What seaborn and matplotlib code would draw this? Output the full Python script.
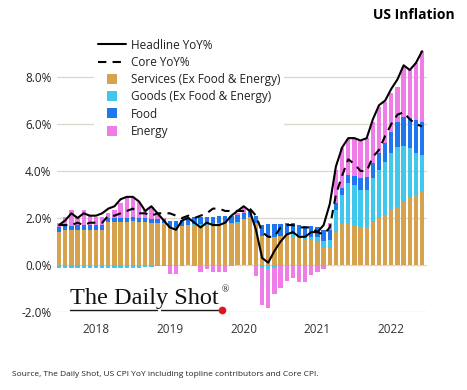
import numpy as np
import pandas as pd
import matplotlib
matplotlib.use("Agg")
import matplotlib.pyplot as plt
from matplotlib.lines import Line2D
import seaborn as sns

# ---------------- data (Jul 2017 .. Jun 2022, monthly) ----------------
months = pd.date_range("2017-07-01", "2022-06-01", freq="MS").strftime("%Y-%m").tolist()

headline = [1.7, 1.9, 2.2, 2.0, 2.2, 2.1,
            2.1, 2.2, 2.4, 2.5, 2.8, 2.9, 2.9, 2.7, 2.3, 2.5, 2.2, 1.9,
            1.6, 1.5, 1.9, 2.0, 1.8, 1.6, 1.8, 1.7, 1.7, 1.8, 2.1, 2.3,
            2.5, 2.3, 1.5, 0.3, 0.1, 0.6, 1.0, 1.3, 1.4, 1.2, 1.2, 1.4,
            1.4, 1.7, 2.6, 4.2, 5.0, 5.4, 5.4, 5.3, 5.4, 6.2, 6.8, 7.0,
            7.5, 7.9, 8.5, 8.3, 8.6, 9.1]

core = [1.7, 1.7, 1.7, 1.8, 1.7, 1.8,
        1.8, 1.8, 2.1, 2.1, 2.2, 2.3, 2.4, 2.2, 2.2, 2.1, 2.2, 2.2,
        2.2, 2.1, 2.0, 2.1, 2.0, 2.1, 2.2, 2.4, 2.4, 2.3, 2.3, 2.3,
        2.3, 2.4, 2.1, 1.4, 1.2, 1.2, 1.6, 1.7, 1.7, 1.6, 1.6, 1.6,
        1.4, 1.3, 1.6, 3.0, 3.8, 4.5, 4.3, 4.0, 4.0, 4.6, 4.9, 5.5,
        6.0, 6.4, 6.5, 6.2, 6.0, 5.9]

services = [1.40, 1.48, 1.48, 1.49, 1.49, 1.50,
            1.50, 1.50, 1.82, 1.84, 1.84, 1.84, 1.86, 1.84, 1.84, 1.80, 1.78, 1.77,
            1.58, 1.58, 1.64, 1.70, 1.72, 1.72, 1.72, 1.72, 1.74, 1.74, 1.74, 1.76,
            1.92, 1.98, 1.80, 1.22, 1.18, 1.20, 1.25, 1.25, 1.20, 1.15, 1.08, 1.05,
            0.98, 0.72, 0.72, 1.42, 1.73, 1.77, 1.70, 1.63, 1.63, 1.84, 1.98, 2.13,
            2.34, 2.48, 2.70, 2.84, 2.98, 3.15]

goods = [-0.13, -0.13, -0.13, -0.13, -0.13, -0.13,
         -0.13, -0.13, -0.12, -0.12, -0.12, -0.12, -0.11, -0.11, -0.10, -0.08, -0.06, -0.05,
         -0.04, -0.03, 0.00, 0.02, 0.03, 0.03, 0.04, 0.04, 0.05, 0.05, 0.05, 0.05,
         0.05, 0.05, 0.00, -0.13, -0.15, -0.12, -0.05, 0.05, 0.10, 0.12, 0.12, 0.15,
         0.20, 0.30, 0.35, 0.92, 1.25, 1.70, 1.70, 1.56, 1.56, 1.85, 2.06, 2.27,
         2.41, 2.56, 2.36, 2.12, 1.77, 1.53]

food = [0.20, 0.20, 0.20, 0.20, 0.20, 0.20,
        0.20, 0.20, 0.17, 0.17, 0.17, 0.17, 0.17, 0.17, 0.17, 0.17, 0.17, 0.17,
        0.28, 0.28, 0.28, 0.28, 0.28, 0.28, 0.30, 0.30, 0.30, 0.30, 0.30, 0.30,
        0.25, 0.25, 0.30, 0.50, 0.55, 0.55, 0.50, 0.50, 0.48, 0.45, 0.45, 0.45,
        0.45, 0.45, 0.40, 0.28, 0.28, 0.35, 0.40, 0.50, 0.57, 0.64, 0.71, 0.78,
        0.92, 1.06, 1.25, 1.28, 1.42, 1.42]

energy = [0.17, 0.38, 0.66, 0.37, 0.65, 0.43,
          0.36, 0.36, 0.21, 0.33, 0.61, 0.83, 0.81, 0.69, 0.33, 0.51, 0.25, 0.06,
          -0.35, -0.35, -0.05, 0.05, -0.05, -0.30, -0.15, -0.30, -0.30, -0.30, -0.05, 0.10,
          0.19, 0.08, -0.47, -1.56, -1.70, -1.13, -0.92, -0.67, -0.57, -0.71, -0.71, -0.43,
          -0.28, -0.15, 0.30, 1.42, 1.70, 1.54, 1.56, 1.61, 1.64, 1.77, 1.99, 1.77,
          1.63, 1.49, 2.13, 2.06, 2.41, 3.00]

year_labels = ["2018", "2019", "2020", "2021", "2022"]
ytick_vals = [-2, 0, 2, 4, 6, 8]

series_names = ["Services (Ex Food & Energy)", "Goods (Ex Food & Energy)", "Food", "Energy"]
colors = {"Services (Ex Food & Energy)": "#D6A24E",
          "Goods (Ex Food & Energy)": "#3FC8EC",
          "Food": "#1F77F0",
          "Energy": "#EE7DE8"}

# ---------------- build stacked layers ----------------
s = np.array(services); g = np.array(goods); f = np.array(food); e = np.array(energy)
gp, gn = np.clip(g, 0, None), np.clip(g, None, 0)
ep, en = np.clip(e, 0, None), np.clip(e, None, 0)
idx = np.arange(len(months))
df = pd.DataFrame({
    "month": months, "i": idx,
    "pos_energy": s + gp + f + ep,
    "pos_food": s + gp + f,
    "pos_goods": s + gp,
    "pos_services": s,
    "neg_energy": gn + en,
    "neg_goods": gn,
    "headline": headline, "core": core,
})

# ---------------- figure ----------------
W, H = 467, 390
fig = plt.figure(figsize=(W / 100, H / 100), dpi=100)
sns.set_style("white")
plt.rcParams["font.family"] = ["Open Sans", "DejaVu Sans"]

def fx(px):
    return px / W

def fy(py):
    return 1 - py / H

ax_left, ax_right = 57, 427
ax_top, ax_bot = 46.5, 312
ax = fig.add_axes([fx(ax_left), fy(ax_bot), (ax_right - ax_left) / W, (ax_bot - ax_top) / H])

bw = 0.7
layers = [("pos_energy", "Energy"), ("pos_food", "Food"),
          ("pos_goods", "Goods (Ex Food & Energy)"), ("pos_services", "Services (Ex Food & Energy)"),
          ("neg_energy", "Energy"), ("neg_goods", "Goods (Ex Food & Energy)")]
for col, name in layers:
    sns.barplot(data=df, x="i", y=col, color=colors[name], saturation=1,
                width=bw, ax=ax, linewidth=0, zorder=2)

sns.lineplot(data=df, x="i", y="core", color="black", lw=1.5, ax=ax, zorder=4)
ax.lines[-1].set_dashes([4, 3])
sns.lineplot(data=df, x="i", y="headline", color="black", lw=1.5, ax=ax, zorder=5)

ax.set_xlim(-0.34, 59.8)
ax.set_ylim(-2.0, 9.3)
ax.set_yticks(ytick_vals)
ax.set_yticklabels([f"{v:.1f}%" for v in ytick_vals], fontsize=8.5, color="#222222")
ax.set_xticks([6, 18, 30, 42, 54])
ax.set_xticklabels(year_labels, fontsize=8.5, color="#333333")
ax.tick_params(axis="both", length=0)
ax.tick_params(axis="y", pad=4)
ax.tick_params(axis="x", pad=8)
ax.set_xlabel("")
ax.set_ylabel("")
for sp in ax.spines.values():
    sp.set_visible(False)
ax.grid(axis="y", color="#DCD6CE", lw=0.9)
ax.set_axisbelow(True)
if ax.get_legend():
    ax.get_legend().remove()

# legend
handles = [Line2D([], [], color="black", lw=1.5),
           Line2D([], [], color="black", lw=1.5, dashes=[4, 3])]
labels = ["Headline YoY%", "Core YoY%"]
for name in series_names:
    handles.append(Line2D([], [], marker="s", linestyle="none", markersize=7,
                          markerfacecolor=colors[name], markeredgewidth=0))
    labels.append(name)
leg = fig.legend(handles, labels, loc="upper left", bbox_to_anchor=(fx(94), fy(35)),
                 fontsize=8.5, frameon=True, framealpha=1, facecolor="white",
                 edgecolor="none", handlelength=2.4, handletextpad=0.4,
                 labelspacing=0.36, borderpad=0.3, borderaxespad=0)
for t in leg.get_texts():
    t.set_color("#222222")

# title
fig.text(fx(455), fy(15), "US Inflation", ha="right", va="center",
         fontsize=10, fontweight="bold", color="black")

# watermark
fig.text(fx(70), fy(304), "The Daily Shot", ha="left", va="baseline",
         family=["Liberation Serif", "DejaVu Serif"], fontsize=17.5, color="#111111")
fig.text(fx(222), fy(292), "®", ha="left", va="baseline",
         family=["Liberation Serif", "DejaVu Serif"], fontsize=7, color="#111111")
fig.add_artist(Line2D([fx(70), fx(157)], [fy(309.5), fy(309.5)], color="#1a1a1a", lw=1.0))
fig.add_artist(Line2D([fx(161), fx(222)], [fy(309.5), fy(309.5)], color="#1a1a1a", lw=1.0))
fig.add_artist(Line2D([fx(222)], [fy(309.5)], marker="o", markersize=4.5,
                      color="#E0141E", linestyle="none"))

# source
fig.text(fx(12), fy(375), "Source, The Daily Shot, US CPI YoY including topline contributors and Core CPI.",
         ha="left", va="center", fontsize=6, color="#222222")

fig.savefig("out.png", dpi=100)
